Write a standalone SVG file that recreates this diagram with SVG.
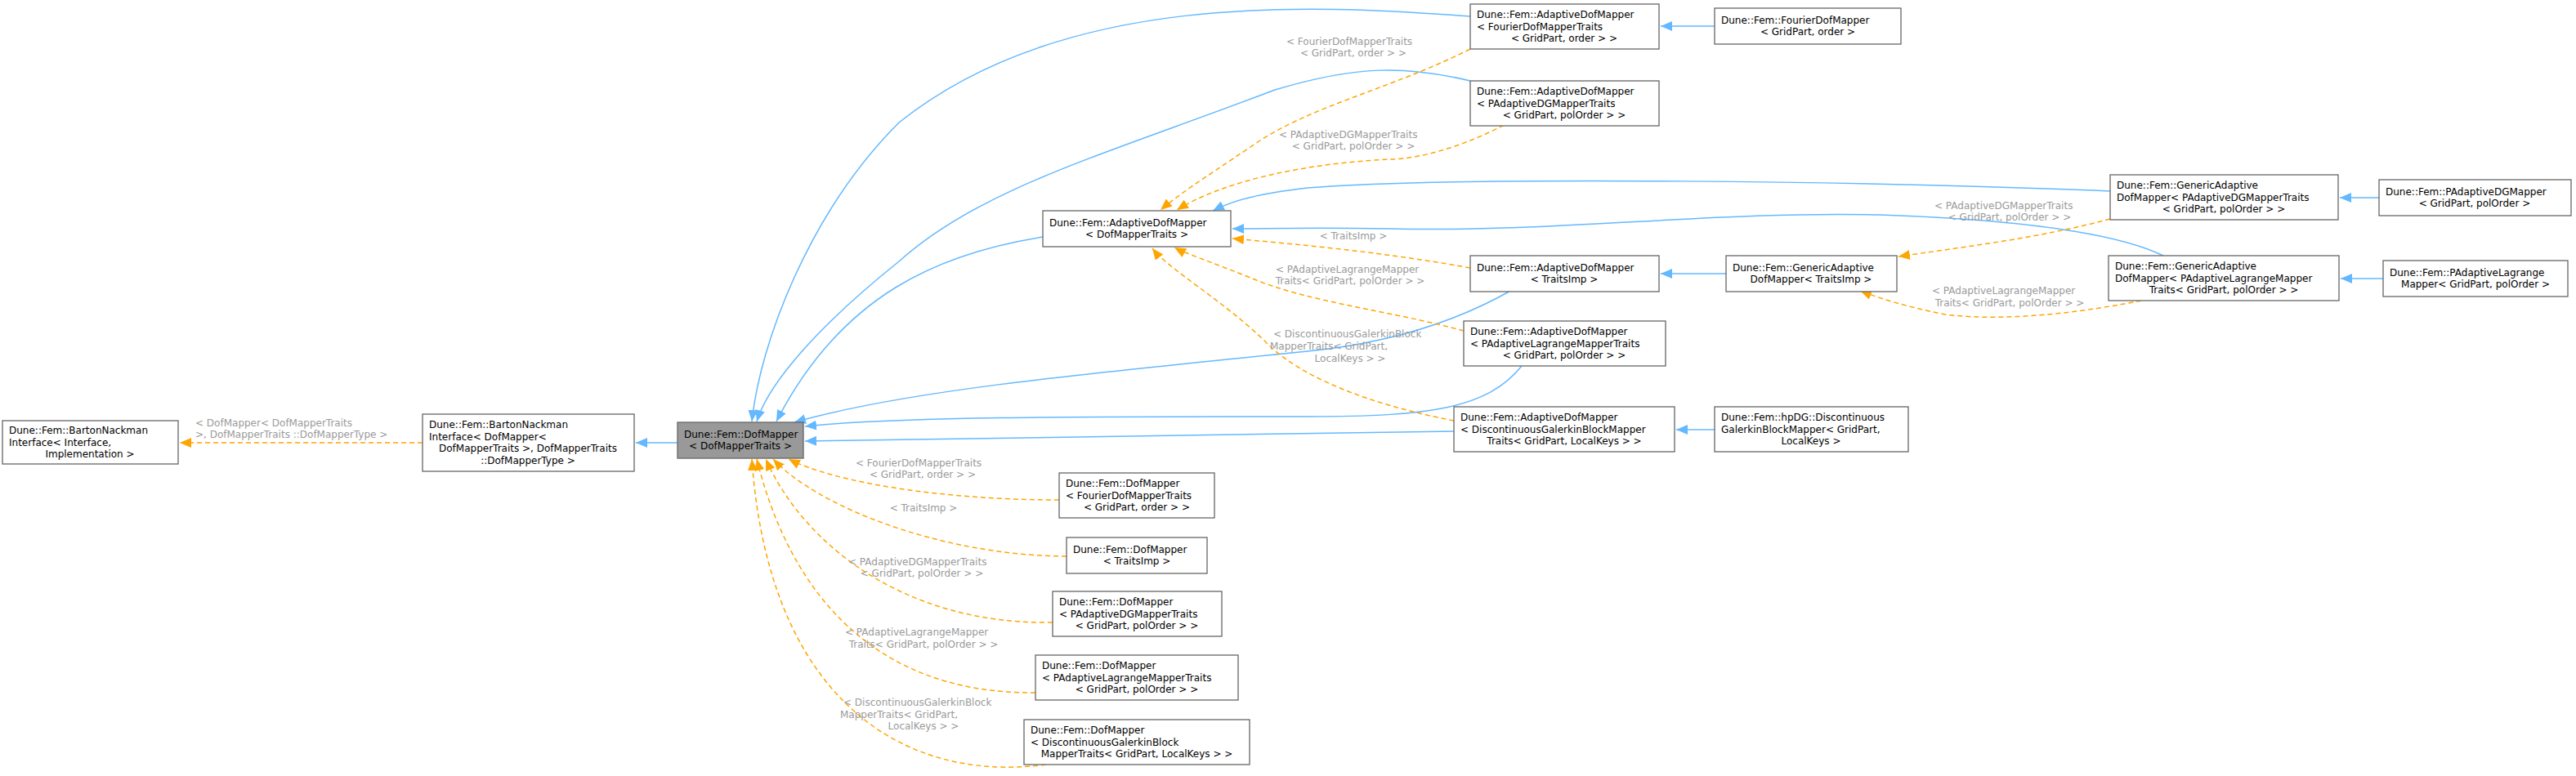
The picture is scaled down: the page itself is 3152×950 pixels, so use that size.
<svg xmlns="http://www.w3.org/2000/svg" width="3152" height="950" viewBox="0 0 3152 950">
<style>
text{font-family:"DejaVu Sans",sans-serif;font-size:12px;fill:#000}
.m{text-anchor:middle}
.lb{fill:#9a9a9a}
rect{fill:#fff;stroke:#666;stroke-width:1.3}
rect.g{fill:#999}
.b{fill:none;stroke:#63b8ff;stroke-width:1.5}
.o{fill:none;stroke:#ffa500;stroke-width:1.5;stroke-dasharray:6,4}
</style>
<defs>
<marker id="ab" markerUnits="userSpaceOnUse" markerWidth="16" markerHeight="12" refX="14" refY="6" orient="auto"><path d="M0,0L14,6L0,12z" fill="#63b8ff"/></marker>
<marker id="ao" markerUnits="userSpaceOnUse" markerWidth="16" markerHeight="12" refX="14" refY="6" orient="auto"><path d="M0,0L14,6L0,12z" fill="#ffa500"/></marker>
</defs>
<g id="edges">
<path class="b" marker-end="url(#ab)" d="M1799,20 C1600,5 1300,-10 1100,150 C990,260 930,420 920,516"/>
<path class="b" marker-end="url(#ab)" d="M1799,99 C1720,80 1660,80 1560,110 C1350,190 1200,230 1100,320 C1000,400 940,470 926,516"/>
<path class="b" marker-end="url(#ab)" d="M1276,290 C1150,310 1030,360 950,516"/>
<path class="b" marker-end="url(#ab)" d="M1850,355 C1780,395 1700,420 1600,430 C1300,460 1100,480 972,517"/>
<path class="b" marker-end="url(#ab)" d="M1862,448 C1820,500 1750,510 1600,510 C1300,510 1100,510 985,522"/>
<path class="b" marker-end="url(#ab)" d="M1779,528 L985,540"/>
<path class="b" marker-end="url(#ab)" d="M829,542 L778,542"/>
<path class="o" marker-end="url(#ao)" d="M517,542 L220,542"/>
<path class="b" marker-end="url(#ab)" d="M2098,32 L2032,32"/>
<path class="b" marker-end="url(#ab)" d="M2112,335 L2032,335"/>
<path class="b" marker-end="url(#ab)" d="M2098,526 L2051,526"/>
<path class="b" marker-end="url(#ab)" d="M2911,242 L2863,242"/>
<path class="b" marker-end="url(#ab)" d="M2916,341 L2864,341"/>
<path class="b" marker-end="url(#ab)" d="M2582,234 C2300,222 1800,215 1600,230 C1540,237 1510,245 1484,258"/>
<path class="b" marker-end="url(#ab)" d="M2647,313 C2600,290 2500,270 2300,263 C2100,258 1900,285 1700,280 C1600,278 1550,280 1508,280"/>
<path class="o" marker-end="url(#ao)" d="M1799,60 C1700,110 1600,130 1530,180 C1470,220 1440,240 1420,257"/>
<path class="o" marker-end="url(#ao)" d="M1840,153 C1800,175 1740,195 1700,195 C1600,200 1500,220 1440,257"/>
<path class="o" marker-end="url(#ao)" d="M1799,328 C1700,310 1600,300 1508,292"/>
<path class="o" marker-end="url(#ao)" d="M1791,405 C1700,380 1600,370 1530,340 C1480,320 1450,310 1437,303"/>
<path class="o" marker-end="url(#ao)" d="M1779,515 C1700,500 1600,470 1550,420 C1500,370 1430,330 1410,304"/>
<path class="o" marker-end="url(#ao)" d="M2582,268 C2500,290 2420,300 2323,314"/>
<path class="o" marker-end="url(#ao)" d="M2620,368 C2560,380 2460,395 2380,385 C2330,375 2300,365 2276,356"/>
<path class="o" marker-end="url(#ao)" d="M1296,612 C1150,612 1020,590 965,562"/>
<path class="o" marker-end="url(#ao)" d="M1305,681 C1150,680 1000,620 946,562"/>
<path class="o" marker-end="url(#ao)" d="M1288,762 C1100,765 980,660 937,562"/>
<path class="o" marker-end="url(#ao)" d="M1267,848 C1050,850 960,700 926,562"/>
<path class="o" marker-end="url(#ao)" d="M1280,936 C1100,960 940,850 920,562"/>
</g>
<g id="labels">
<text class="lb" x="239" y="522">&lt; DofMapper&lt; DofMapperTraits</text>
<text class="lb" x="239" y="536">&gt;, DofMapperTraits ::DofMapperType &gt;</text>
<text class="lb" x="1574" y="55">&lt; FourierDofMapperTraits</text>
<text class="lb m" x="1656" y="69">&lt; GridPart, order &gt; &gt;</text>
<text class="lb" x="1565" y="169">&lt; PAdaptiveDGMapperTraits</text>
<text class="lb m" x="1656" y="183">&lt; GridPart, polOrder &gt; &gt;</text>
<text class="lb m" x="1656" y="293">&lt; TraitsImp &gt;</text>
<text class="lb" x="1561" y="334">&lt; PAdaptiveLagrangeMapper</text>
<text class="lb m" x="1652" y="348">Traits&lt; GridPart, polOrder &gt; &gt;</text>
<text class="lb" x="1558" y="413">&lt; DiscontinuousGalerkinBlock</text>
<text class="lb" x="1554" y="428">MapperTraits&lt; GridPart,</text>
<text class="lb m" x="1652" y="443">LocalKeys &gt; &gt;</text>
<text class="lb" x="2367" y="256">&lt; PAdaptiveDGMapperTraits</text>
<text class="lb m" x="2459" y="270">&lt; GridPart, polOrder &gt; &gt;</text>
<text class="lb" x="2364" y="360">&lt; PAdaptiveLagrangeMapper</text>
<text class="lb m" x="2459" y="375">Traits&lt; GridPart, polOrder &gt; &gt;</text>
<text class="lb" x="1047" y="571">&lt; FourierDofMapperTraits</text>
<text class="lb m" x="1129" y="585">&lt; GridPart, order &gt; &gt;</text>
<text class="lb m" x="1130" y="626">&lt; TraitsImp &gt;</text>
<text class="lb" x="1038" y="692">&lt; PAdaptiveDGMapperTraits</text>
<text class="lb m" x="1128" y="706">&lt; GridPart, polOrder &gt; &gt;</text>
<text class="lb" x="1034" y="778">&lt; PAdaptiveLagrangeMapper</text>
<text class="lb m" x="1130" y="793">Traits&lt; GridPart, polOrder &gt; &gt;</text>
<text class="lb" x="1032" y="864">&lt; DiscontinuousGalerkinBlock</text>
<text class="lb" x="1028" y="879">MapperTraits&lt; GridPart,</text>
<text class="lb m" x="1130" y="893">LocalKeys &gt; &gt;</text>
</g>
<g id="n_bni"><rect x="3" y="515" width="215" height="53"/><text x="11" y="531">Dune::Fem::BartonNackman</text><text x="11" y="545.5">Interface&lt; Interface,</text><text class="m" x="110" y="560">Implementation &gt;</text></g>
<g id="n_bn"><rect x="517" y="507" width="259" height="70"/><text x="525" y="524">Dune::Fem::BartonNackman</text><text x="525" y="538.5">Interface&lt; DofMapper&lt;</text><text class="m" x="646" y="553">DofMapperTraits &gt;, DofMapperTraits</text><text class="m" x="646" y="567.5">::DofMapperType &gt;</text></g>
<g id="n_dm"><rect class="g" x="829" y="517" width="154" height="44"/><text x="837" y="535.5">Dune::Fem::DofMapper</text><text class="m" x="906" y="550">&lt; DofMapperTraits &gt;</text></g>
<g id="n_adm"><rect x="1276" y="258" width="230" height="44"/><text x="1284" y="276.5">Dune::Fem::AdaptiveDofMapper</text><text class="m" x="1391" y="291">&lt; DofMapperTraits &gt;</text></g>
<g id="n_adm_f"><rect x="1799" y="5" width="231" height="55"/><text x="1807" y="22">Dune::Fem::AdaptiveDofMapper</text><text x="1807" y="36.5">&lt; FourierDofMapperTraits</text><text class="m" x="1914" y="51">&lt; GridPart, order &gt; &gt;</text></g>
<g id="n_adm_pdg"><rect x="1799" y="99" width="231" height="55"/><text x="1807" y="116">Dune::Fem::AdaptiveDofMapper</text><text x="1807" y="130.5">&lt; PAdaptiveDGMapperTraits</text><text class="m" x="1914" y="145">&lt; GridPart, polOrder &gt; &gt;</text></g>
<g id="n_adm_ti"><rect x="1799" y="313" width="231" height="44"/><text x="1807" y="331.5">Dune::Fem::AdaptiveDofMapper</text><text class="m" x="1914" y="346">&lt; TraitsImp &gt;</text></g>
<g id="n_adm_pl"><rect x="1791" y="393" width="247" height="55"/><text x="1799" y="410">Dune::Fem::AdaptiveDofMapper</text><text x="1799" y="424.5">&lt; PAdaptiveLagrangeMapperTraits</text><text class="m" x="1914" y="439">&lt; GridPart, polOrder &gt; &gt;</text></g>
<g id="n_adm_dg"><rect x="1779" y="498" width="270" height="55"/><text x="1787" y="515">Dune::Fem::AdaptiveDofMapper</text><text x="1787" y="529.5">&lt; DiscontinuousGalerkinBlockMapper</text><text class="m" x="1914" y="544">Traits&lt; GridPart, LocalKeys &gt; &gt;</text></g>
<g id="n_fdm"><rect x="2098" y="10" width="228" height="44"/><text x="2106" y="28.5">Dune::Fem::FourierDofMapper</text><text class="m" x="2212" y="43">&lt; GridPart, order &gt;</text></g>
<g id="n_ga_ti"><rect x="2112" y="313" width="209" height="44"/><text x="2120" y="331.5">Dune::Fem::GenericAdaptive</text><text class="m" x="2216" y="346">DofMapper&lt; TraitsImp &gt;</text></g>
<g id="n_ga_pdg"><rect x="2582" y="214" width="279" height="55"/><text x="2590" y="231">Dune::Fem::GenericAdaptive</text><text x="2590" y="245.5">DofMapper&lt; PAdaptiveDGMapperTraits</text><text class="m" x="2721" y="260">&lt; GridPart, polOrder &gt; &gt;</text></g>
<g id="n_ga_pl"><rect x="2580" y="313" width="282" height="55"/><text x="2588" y="330">Dune::Fem::GenericAdaptive</text><text x="2588" y="344.5">DofMapper&lt; PAdaptiveLagrangeMapper</text><text class="m" x="2721" y="359">Traits&lt; GridPart, polOrder &gt; &gt;</text></g>
<g id="n_pdgm"><rect x="2911" y="220" width="235" height="44"/><text x="2919" y="238.5">Dune::Fem::PAdaptiveDGMapper</text><text class="m" x="3028" y="253">&lt; GridPart, polOrder &gt;</text></g>
<g id="n_plm"><rect x="2916" y="319" width="226" height="44"/><text x="2924" y="337.5">Dune::Fem::PAdaptiveLagrange</text><text class="m" x="3029" y="352">Mapper&lt; GridPart, polOrder &gt;</text></g>
<g id="n_hpdg"><rect x="2098" y="498" width="237" height="55"/><text x="2106" y="515">Dune::Fem::hpDG::Discontinuous</text><text x="2106" y="529.5">GalerkinBlockMapper&lt; GridPart,</text><text class="m" x="2216" y="544">LocalKeys &gt;</text></g>
<g id="n_dm_f"><rect x="1296" y="579" width="190" height="55"/><text x="1304" y="596">Dune::Fem::DofMapper</text><text x="1304" y="610.5">&lt; FourierDofMapperTraits</text><text class="m" x="1391" y="625">&lt; GridPart, order &gt; &gt;</text></g>
<g id="n_dm_ti"><rect x="1305" y="658" width="172" height="44"/><text x="1313" y="676.5">Dune::Fem::DofMapper</text><text class="m" x="1391" y="691">&lt; TraitsImp &gt;</text></g>
<g id="n_dm_pdg"><rect x="1288" y="724" width="207" height="55"/><text x="1296" y="741">Dune::Fem::DofMapper</text><text x="1296" y="755.5">&lt; PAdaptiveDGMapperTraits</text><text class="m" x="1391" y="770">&lt; GridPart, polOrder &gt; &gt;</text></g>
<g id="n_dm_pl"><rect x="1267" y="802" width="248" height="55"/><text x="1275" y="819">Dune::Fem::DofMapper</text><text x="1275" y="833.5">&lt; PAdaptiveLagrangeMapperTraits</text><text class="m" x="1391" y="848">&lt; GridPart, polOrder &gt; &gt;</text></g>
<g id="n_dm_dg"><rect x="1253" y="881" width="276" height="55"/><text x="1261" y="898">Dune::Fem::DofMapper</text><text x="1261" y="912.5">&lt; DiscontinuousGalerkinBlock</text><text class="m" x="1391" y="927">MapperTraits&lt; GridPart, LocalKeys &gt; &gt;</text></g>
</svg>
